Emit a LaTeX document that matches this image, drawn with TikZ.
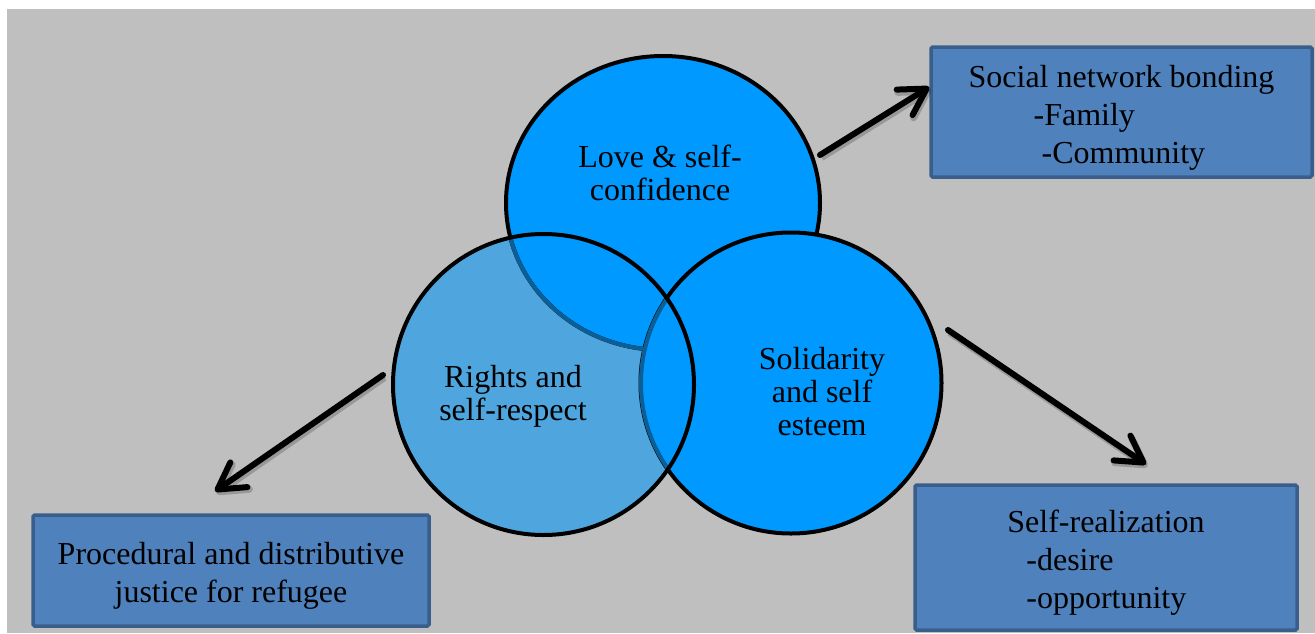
\documentclass[tikz,border=0pt]{standalone}
\usepackage{fontspec}
\setmainfont{Liberation Serif}
\usetikzlibrary{arrows.meta, shapes.geometric, positioning}

\definecolor{bggray}{HTML}{BFBFBF}
\definecolor{vennblue}{HTML}{0099FF}
\definecolor{rightsblue}{HTML}{4FA6DF}
\definecolor{ringdark}{HTML}{0B5E96}
\definecolor{boxblue}{HTML}{4F81BD}
\definecolor{boxedge}{HTML}{3A5E8C}

\begin{document}
\begin{tikzpicture}[x=1pt, y=-1pt,
    venn/.style={circle, inner sep=0pt, minimum size=301pt},
    ring/.style={draw=black, line width=4pt},
    ringdim/.style={draw=ringdark, line width=4pt},
    vtext/.style={align=center, font=\fontsize{32}{33}\selectfont},
    box/.style={draw=boxedge, fill=boxblue, line width=3.5pt, rounded corners=1.5pt, inner sep=0pt},
    btext/.style={font=\fontsize{32}{38}\selectfont, inner sep=0pt},
    flow/.style={line width=6pt, line cap=round,
        -{Straight Barb[length=26pt, width=30pt, line cap=round, line join=round]},
        preaction={draw=black, opacity=.2, line width=7pt, transform canvas={shift={(1.5pt,-2.5pt)}}}}]

    \useasboundingbox (0,0) rectangle (1315,633);
    \fill[bggray] (7,9) rectangle (1315,633);

    % the three circles
    \node[venn, fill=rightsblue] (rights) at (543.5,384.5) {};
    \node[ellipse, inner sep=0pt, minimum width=314pt, minimum height=294pt, fill=vennblue, ring] (love) at (663,203) {};
    \node[venn, fill=vennblue, ring] (solid) at (791,383) {};

    % borders seen through the rights circle
    \begin{scope}
        \clip (rights.center) circle (150.5pt);
        \draw[ringdim] (love.center) ellipse (157pt and 147pt);
        \fill[vennblue] (solid.center) circle (150pt);
        \draw[ringdim] (solid.center) circle (150pt);
    \end{scope}
    \draw[ring] (rights.center) circle (150.5pt);

    \node[vtext] (lovetext) at (660,173) {Love \& self-\\confidence};
    \node[vtext] (rightstext) at (513,396) {Rights and\\self-respect};
    \node[vtext] (solidtext) at (822,392) {Solidarity\\and self\\esteem};

    % outcome boxes
    \node[box, minimum width=381pt, minimum height=130pt] (social) at (1121.5,112) {};
    \node[box, minimum width=396pt, minimum height=111pt] (proc) at (231,570.5) {};
    \node[box, minimum width=382pt, minimum height=145pt] (self) at (1106,557.5) {};

    \node[btext, align=left] (socialtext) at ([yshift=-6pt]social.center)
        {Social network bonding\\\hspace*{65pt}-Family\\\hspace*{73pt}-Community};
    \node[btext, align=center] (proctext) at ([yshift=-5pt]proc.center)
        {Procedural and distributive\\justice for refugee};
    \node[btext, align=left] (selftext) at ([yshift=-5pt]self.center)
        {Self-realization\\\hspace*{19pt}-desire\\\hspace*{19pt}-opportunity};

    \draw[flow] ([shift={(157,-48)}]love.center) -- ([yshift=25pt]social.west);
    \draw[flow] ([shift={(-160.5,-9.5)}]rights.center) -- ([shift={(-16,-22)}]proc.north);
    \draw[flow] ([shift={(157,-53)}]solid.center) -- ([shift={(40,-19)}]self.north);

\end{tikzpicture}
\end{document}
